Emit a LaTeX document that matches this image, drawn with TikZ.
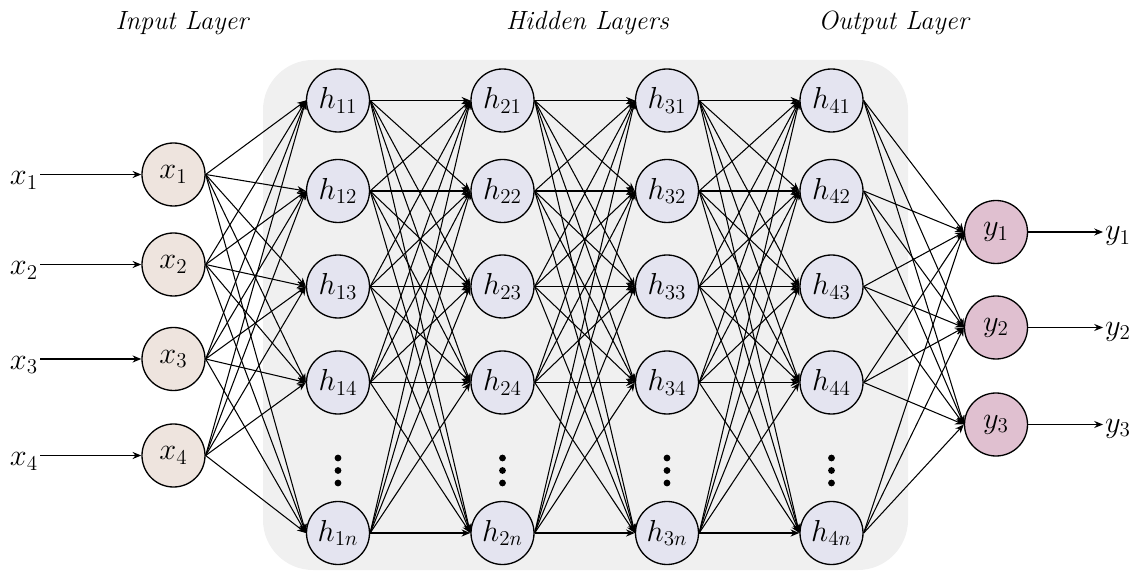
\documentclass[tikz,border=0pt]{standalone}
\usetikzlibrary{arrows.meta}
\DeclareMathSizes{17}{17}{13}{10}
\definecolor{incol}{RGB}{238,228,222}
\definecolor{hidcol}{RGB}{228,228,240}
\definecolor{outcol}{RGB}{224,192,208}
\definecolor{bgcol}{RGB}{240,240,240}
\tikzset{
  neuron/.style={circle, draw, line width=0.75pt, minimum size=1.26cm, inner sep=0pt, font=\fontsize{17}{20}\selectfont},
  innode/.style={neuron, fill=incol},
  hidnode/.style={neuron, fill=hidcol},
  outnode/.style={neuron, fill=outcol},
  sig/.style={inner sep=1pt, font=\fontsize{17}{20}\selectfont},
  wire/.style={-{Stealth[length=5pt,width=4pt]}, line width=0.6pt},
  layername/.style={font=\fontsize{15}{18}\selectfont\itshape}
}
\begin{document}
\begin{tikzpicture}
\useasboundingbox (0,0) rectangle (22.74,-11.44);
\fill[bgcol, rounded corners=1cm] (5.26,-1.2) rectangle (18.16,-11.4); %shaded box behind hidden layers
\node[layername] (inname) at (3.64,-0.46) {Input Layer}; %input title
\node[layername] (hidname) at (11.75,-0.46) {Hidden Layers}; %hidden title
\node[layername] (outname) at (17.87,-0.46) {Output Layer}; %output title
\foreach \i/\yy in {1/-3.49,2/-5.29,3/-7.18,4/-9.11} {
  \node[innode] (x\i) at (3.47,\yy) {$x_\i$}; %input neuron
  \node[sig, yshift=-0.12cm] (xin\i) at (0.48,\yy) {$x_\i$}; %input signal
  \draw[wire] (xin\i.east |- x\i) -- (x\i); %signal into neuron
}
\foreach \c/\xx in {1/6.76,2/10.05,3/13.34,4/16.63} {
  \foreach \r/\yy in {1/-2.01,2/-3.82,3/-5.73,4/-7.65,n/-10.66}
    \node[hidnode] (h\c\r) at (\xx,\yy) {$h_{\c\r}$}; %hidden neuron
  \foreach \k in {0,1,2}
    \fill (\xx,{-9.16-0.25*\k}) circle (0.068); %dots for the rest
}
\foreach \j/\yy in {1/-4.64,2/-6.55,3/-8.49} {
  \node[outnode] (y\j) at (19.92,\yy) {$y_\j$}; %output neuron
  \node[sig, yshift=-0.08cm] (yout\j) at (22.36,\yy) {$y_\j$}; %output signal
  \draw[wire] (y\j) -- (yout\j.west |- y\j); %neuron to signal
}
\foreach \i in {1,...,4}
  \foreach \j in {1,2,3,4,n}
    \draw[wire] (x\i.east) -- (h1\j.west); %input to first hidden layer
\foreach \c/\d in {1/2,2/3,3/4}
  \foreach \i in {1,2,3,4,n}
    \foreach \j in {1,2,3,4,n}
      \draw[wire] (h\c\i.east) -- (h\d\j.west); %hidden to next hidden
\foreach \i in {1,2,3,4,n}
  \foreach \j in {1,2,3}
    \draw[wire] (h4\i.east) -- (y\j.west); %last hidden to output
\end{tikzpicture}
\end{document}
